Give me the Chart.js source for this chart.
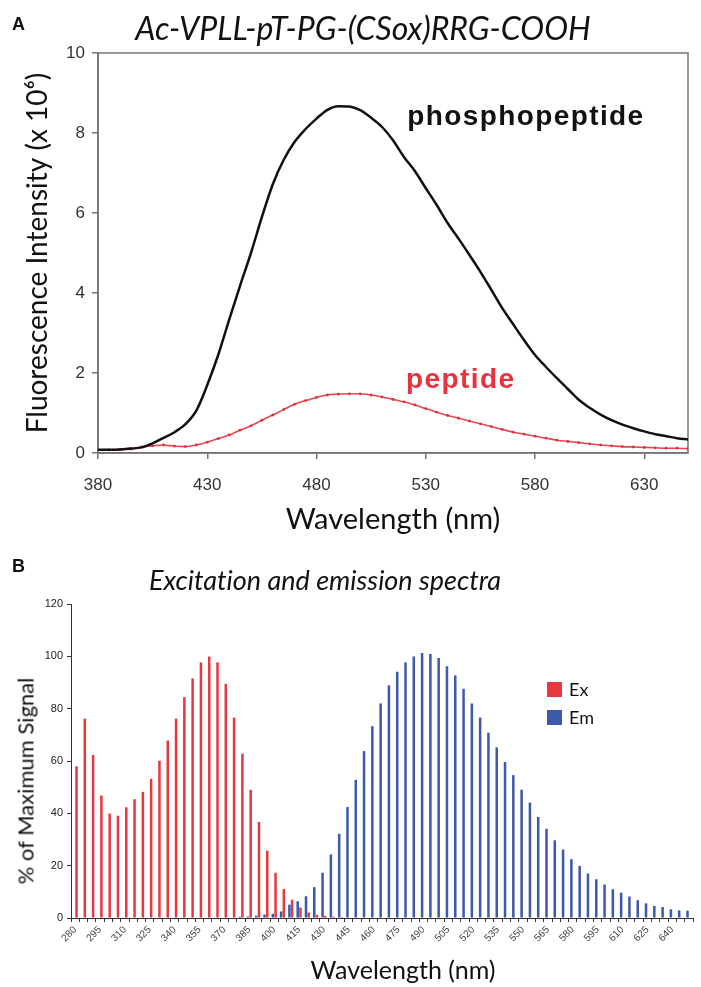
<!DOCTYPE html>
<html>
<head>
<meta charset="utf-8">
<script src="https://cdn.jsdelivr.net/npm/chart.js@4.4.1/dist/chart.umd.min.js"></script>
<style>
  body { margin: 0; background: #fff; width: 701px; height: 987px; position: relative; overflow: hidden; }
  canvas { position: absolute; left: 0; }
  #chartA { top: 0; }
  #chartB { top: 545px; }
  .panel { position: absolute; font: bold 18px 'Liberation Sans', Arial, sans-serif; color: #111; }
  .title { position: absolute; font-family: Lato, sans-serif; font-style: italic; color: #111; white-space: nowrap;
           transform: translate(-50%, -50%); font-variant-ligatures: none; }
  .axis { position: absolute; font-family: Lato, sans-serif; color: #111; white-space: nowrap; font-variant-ligatures: none; }
</style>
</head>
<body>
<canvas id="chartA" width="701" height="540"></canvas>
<canvas id="chartB" width="701" height="442"></canvas>
<div class="panel" style="left:12px; top:14px">A</div>
<div class="title" style="left:363px; top:27px; font-size:32px">Ac-VPLL-pT-PG-(CSox)RRG-COOH</div>
<div class="panel" style="left:12px; top:556px">B</div>
<div class="title" style="left:325px; top:579px; font-size:27px">Excitation and emission spectra</div>
<div class="axis" style="left:403px; top:969px; font-size:25px; transform: translate(-50%, -50%)">Wavelength (nm)</div>
<div class="axis" style="left:25px; top:781px; font-size:22px; transform: translate(-50%, -50%) rotate(-90deg)">% of Maximum Signal</div>
<script>
// ---- panel A : emission scans (x 10^6 counts), read every 5 nm
const waveA = [380,385,390,395,400,405,410,415,420,425,430,435,440,445,450,455,460,465,470,475,
  480,485,490,495,500,505,510,515,520,525,530,535,540,545,550,555,560,565,570,575,
  580,585,590,595,600,605,610,615,620,625,630,635,640,645,650];
const phospho = [0.08,0.08,0.09,0.11,0.14,0.24,0.38,0.52,0.72,1.06,1.70,2.45,3.33,4.18,5.00,5.90,6.72,7.33,7.78,8.10,
  8.36,8.58,8.67,8.66,8.57,8.38,8.15,7.82,7.40,7.05,6.62,6.20,5.75,5.36,4.95,4.53,4.08,3.62,3.22,2.82,
  2.45,2.15,1.87,1.60,1.33,1.13,0.96,0.82,0.71,0.62,0.54,0.47,0.42,0.37,0.34];
const peptide = [0.08,0.08,0.09,0.10,0.15,0.18,0.20,0.17,0.16,0.20,0.27,0.36,0.45,0.57,0.68,0.82,0.95,1.09,1.22,1.31,
  1.39,1.45,1.47,1.48,1.48,1.45,1.40,1.34,1.28,1.20,1.11,1.02,0.94,0.87,0.80,0.73,0.66,0.59,0.52,0.47,
  0.42,0.37,0.32,0.29,0.26,0.23,0.20,0.18,0.16,0.15,0.14,0.13,0.12,0.12,0.11];
const tickA = [380,430,480,530,580,630];

// ---- panel B : excitation / emission, % of max
const waveB = ['280','285','290','295','300','305','310','315','320','325','330','335','340','345','350',
  '355','360','365','370','375','380','385','390','395','400','405','410','415','420','425',
  '430','435','440','445','450','455','460','465','470','475','480','485','490','495','500',
  '505','510','515','520','525','530','535','540','545','550','555','560','565','570','575',
  '580','585','590','595','600','605','610','615','620','625','630','635','640','645','650'];
const exSignal = [58,76.2,62.3,46.8,39.9,39.1,42.3,45.4,48.2,53.2,60.1,67.8,76.2,84.4,91.6,
  97.7,99.9,97.7,89.5,76.6,62.8,49.0,36.7,25.7,17.3,11.1,7.0,4.0,2.1,1.2,
  0.8,0.5,0.4,null,null,null,null,null,null,null,null,null,null,null,null,
  null,null,null,null,null,null,null,null,null,null,null,null,null,null,null,
  null,null,null,null,null,null,null,null,null,null,null,null,null,null,null];
const emSignal = [null,null,null,null,null,null,null,null,null,null,null,null,null,null,null,
  null,null,null,null,null,0.5,0.6,0.9,1.3,1.6,2.5,5.1,6.4,8.3,11.8,
  17.3,24.3,32.2,42.4,52.8,63.8,73.3,82.0,88.9,94.1,97.7,99.9,101.3,100.9,99.4,
  96.2,92.7,87.6,82.0,76.6,70.8,65.2,59.6,54.6,49.0,44.1,38.6,34.1,29.7,26.2,
  22.5,19.9,17.0,14.8,12.8,11.0,9.7,8.2,6.8,5.6,4.6,4.2,3.3,2.9,2.8];

const notes = [
  { text: 'phosphopeptide', x: 521.5, y: 8.2, color: '#111111' },
  { text: 'peptide', x: 521, y: 1.62, color: '#e8333f' }
];

const axisGray = '#747474';
const tickFont = { family: "'Liberation Sans', Arial, sans-serif", size: 17 };

// frame round the plot area of panel A
const boxPlugin = {
  id: 'box',
  beforeDatasetsDraw(chart) {
    const { ctx, chartArea: a } = chart;
    ctx.save();
    ctx.strokeStyle = axisGray;
    ctx.lineWidth = 1.5;
    ctx.strokeRect(a.left, a.top, a.right - a.left, a.bottom - a.top);
    ctx.restore();
  }
};

const notePlugin = {
  id: 'notes',
  afterDatasetsDraw(chart) {
    const { ctx, scales: { x, y } } = chart;
    ctx.save();
    ctx.font = "bold 28px 'Liberation Sans', Arial, sans-serif";
    ctx.letterSpacing = '1.4px';
    ctx.textBaseline = 'alphabetic';
    notes.forEach(n => {
      ctx.fillStyle = n.color;
      ctx.fillText(n.text, x.getPixelForValue(n.x), y.getPixelForValue(n.y));
    });
    ctx.restore();
  }
};

new Chart(document.getElementById('chartA'), {
  type: 'line',
  data: {
    datasets: [
      {
        label: 'phosphopeptide',
        data: waveA.map((w, i) => ({ x: w, y: phospho[i] })),
        borderColor: '#111',
        borderWidth: 2.5,
        pointRadius: 0,
        cubicInterpolationMode: 'monotone'
      },
      {
        label: 'peptide',
        data: waveA.map((w, i) => ({ x: w, y: peptide[i] })),
        borderColor: '#e8474f',
        borderWidth: 1.6,
        pointRadius: 1.4,
        pointBorderWidth: 0,
        pointBackgroundColor: '#e0303a',
        cubicInterpolationMode: 'monotone'
      }
    ]
  },
  options: {
    responsive: false,
    animation: false,
    layout: { padding: { top: 53, right: 13, left: 0, bottom: 0 } },
    plugins: { legend: { display: false }, tooltip: { enabled: false } },
    scales: {
      x: {
        type: 'linear',
        min: 380,
        max: 650,
        afterBuildTicks: s => { s.ticks = tickA.map(v => ({ value: v })); },
        afterFit: s => { s.height = 87; },
        grid: { drawOnChartArea: false, tickLength: 6, color: axisGray, lineWidth: 1.5 },
        border: { color: axisGray, width: 1.5 },
        ticks: { font: tickFont, color: '#333', padding: 16, maxRotation: 0 },
        title: { display: true, text: 'Wavelength (nm)', font: { family: 'Lato', size: 29 }, color: '#111', padding: { bottom: 3 } }
      },
      y: {
        min: 0,
        max: 10,
        afterFit: s => { s.width = 98; },
        grid: { drawOnChartArea: false, tickLength: 6, color: axisGray, lineWidth: 1.5 },
        border: { color: axisGray, width: 1.5 },
        ticks: { stepSize: 2, font: tickFont, color: '#333', padding: 7 },
        title: { display: true, text: 'Fluorescence Intensity (x 10⁶)', font: { family: 'Lato', size: 28 }, color: '#111', padding: { top: 21 } }
      }
    }
  },
  plugins: [boxPlugin, notePlugin]
});

// legend drawn inside the plot, Ex above Em
const legendB = {
  id: 'legendB',
  afterDraw(chart) {
    const { ctx } = chart;
    const items = [chart.data.datasets[1], chart.data.datasets[0]];
    ctx.save();
    ctx.font = '18px Lato, sans-serif';
    ctx.textBaseline = 'middle';
    items.forEach((ds, i) => {
      const top = 137 + i * 28;
      ctx.fillStyle = ds.backgroundColor;
      ctx.fillRect(547, top, 15, 15);
      ctx.fillStyle = '#111';
      ctx.fillText(ds.label, 569, top + 8);
    });
    ctx.restore();
  }
};

new Chart(document.getElementById('chartB'), {
  type: 'bar',
  data: {
    labels: waveB,
    datasets: [
      { label: 'Em', data: emSignal, backgroundColor: '#3d5aa9', categoryPercentage: 0.66, barPercentage: 0.92 },
      { label: 'Ex', data: exSignal, backgroundColor: '#e8383d', categoryPercentage: 0.66, barPercentage: 0.92 }
    ]
  },
  options: {
    responsive: false,
    animation: false,
    layout: { padding: { top: 59, right: 8, left: 0, bottom: 0 } },
    plugins: { legend: { display: false }, tooltip: { enabled: false } },
    scales: {
      x: {
        afterFit: s => { s.height = 69; },
        grid: { drawOnChartArea: false, tickLength: 4, color: '#333', offset: true },
        border: { color: '#333', width: 1 },
        ticks: {
          autoSkip: false,
          minRotation: 45,
          maxRotation: 45,
          padding: 2,
          font: { family: "'Liberation Sans', Arial, sans-serif", size: 10 },
          color: '#444',
          callback: (v, i) => (i % 3 === 0 ? waveB[i] : '')
        }
      },
      y: {
        min: 0,
        max: 120,
        afterFit: s => { s.width = 71; },
        grid: { drawOnChartArea: false, tickLength: 4, color: '#333' },
        border: { color: '#333', width: 1 },
        ticks: { stepSize: 20, font: { family: "'Liberation Sans', Arial, sans-serif", size: 11 }, color: '#222', padding: 4 }
      }
    }
  },
  plugins: [legendB]
});
</script>
</body>
</html>
